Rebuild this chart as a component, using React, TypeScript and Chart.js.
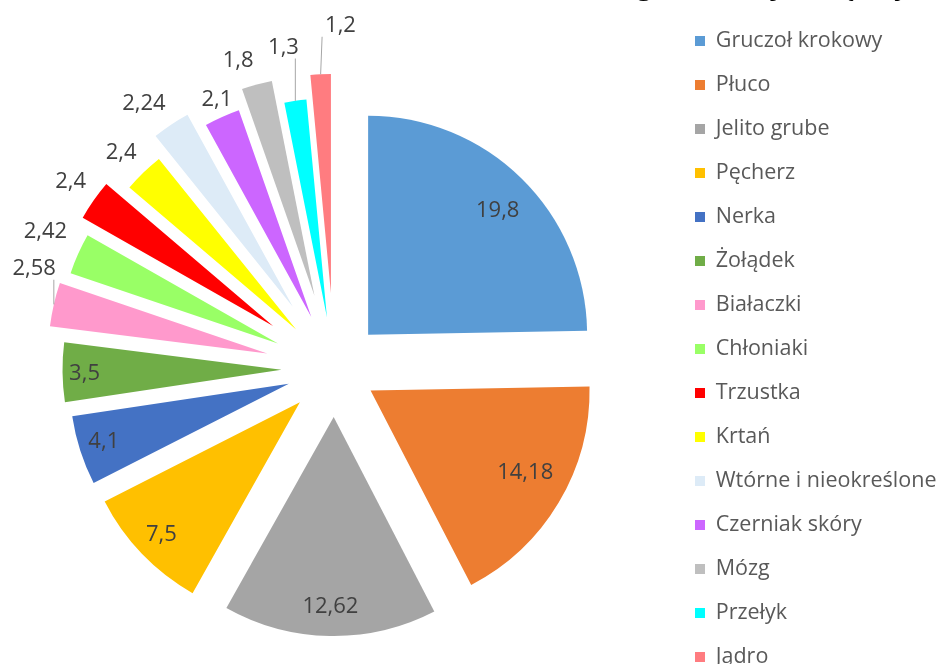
import React, { useEffect, useRef } from 'react';
import { Chart, registerables } from 'chart.js';

Chart.register(...registerables);

const TITLE = 'Struktura zachorowań według lokalizacji – mężczyźni';

const categories = [
  'Gruczoł krokowy',
  'Płuco',
  'Jelito grube',
  'Pęcherz',
  'Nerka',
  'Żołądek',
  'Białaczki',
  'Chłoniaki',
  'Trzustka',
  'Krtań',
  'Wtórne i nieokreślone',
  'Czerniak skóry',
  'Mózg',
  'Przełyk',
  'Jądro',
];

const values = [19.8, 14.18, 12.62, 7.5, 4.1, 3.5, 2.58, 2.42, 2.4, 2.4, 2.24, 2.1, 1.8, 1.3, 1.2];

const valueLabels = values.map((v) => String(v).replace('.', ','));

const colors = [
  '#5B9BD5',
  '#ED7D31',
  '#A5A5A5',
  '#FFC000',
  '#4472C4',
  '#70AD47',
  '#FF99CC',
  '#99FF66',
  '#FF0000',
  '#FFFF00',
  '#DDEBF7',
  '#CC66FF',
  '#BFBFBF',
  '#00FFFF',
  '#FF7C80',
];

// slice explosion (px pushed out along each slice's bisector)
const explode = [48, 42, 48, 48, 48, 53, 69, 62, 75, 55, 75, 57, 76, 52, 76];

// data label placement: distance from pie centre (px) and turn from bisector (deg)
const labelDistance = [227, 217, 237.5, 240, 242, 250, 316.6, 320, 323.7, 303.9, 326.7, 293.5, 323, 325.5, 343.3];
const labelTurn = [1.5, -2.3, 0, 0, 0.2, -0.3, 5.5, 1.2, 0.4, -0.4, -1.9, 0.4, -2.1, -0.7, 3.7];

const LEGEND_FONT = 21.5;
const LEGEND_PAD = 22.5;
const LABEL_FONT = 22;
const CANVAS_W = 980;
const CANVAS_H = 758;
const SHIFT_X = 4;
const SHIFT_Y = 30;

const explodePlugin = {
  id: 'explodeSlices',
  beforeDatasetDraw(chart: any, args: any) {
    const ctx = chart.ctx;
    args.meta.data.forEach((arc: any, i: number) => {
      const mid = (arc.startAngle + arc.endAngle) / 2;
      const t = explode[i] || 0;
      ctx.save();
      ctx.translate(Math.cos(mid) * t, Math.sin(mid) * t);
      arc.draw(ctx);
      ctx.restore();
    });
    return false;
  },
};

const labelPlugin = {
  id: 'sliceLabels',
  afterDatasetsDraw(chart: any) {
    const meta = chart.getDatasetMeta(0);
    const ctx = chart.ctx;
    ctx.save();
    ctx.font = `${LABEL_FONT}px "Open Sans"`;
    ctx.textAlign = 'center';
    ctx.textBaseline = 'middle';
    meta.data.forEach((arc: any, i: number) => {
      const { x, y, startAngle, endAngle, outerRadius } = arc;
      const mid = (startAngle + endAngle) / 2;
      const la = mid + (labelTurn[i] * Math.PI) / 180;
      const lx = x + Math.cos(la) * labelDistance[i];
      const ly = y + Math.sin(la) * labelDistance[i];
      const text = valueLabels[i];
      const w = ctx.measureText(text).width;
      const edge = (explode[i] || 0) + outerRadius;
      if (labelDistance[i] > edge) {
        const ex = x + Math.cos(mid) * edge;
        const ey = y + Math.sin(mid) * edge;
        const bx0 = lx - w / 2 - 3;
        const bx1 = lx + w / 2 + 3;
        const by0 = ly - 11;
        const by1 = ly + 11;
        const nx = Math.min(Math.max(ex, bx0), bx1);
        const ny = Math.min(Math.max(ey, by0), by1);
        if (Math.hypot(ex - nx, ey - ny) > 18) {
          ctx.strokeStyle = '#A6A6A6';
          ctx.lineWidth = 1;
          ctx.beginPath();
          ctx.moveTo(ex, ey);
          ctx.lineTo(nx, ny);
          ctx.stroke();
        }
      }
      ctx.fillStyle = '#404040';
      ctx.fillText(text, lx, ly);
    });
    ctx.restore();
  },
};

export default function App() {
  const ref = useRef<HTMLCanvasElement>(null);

  useEffect(() => {
    if (!ref.current) return;
    const mctx = document.createElement('canvas').getContext('2d') as CanvasRenderingContext2D;
    mctx.font = `${LEGEND_FONT}px "Open Sans"`;
    const maxText = Math.max(...categories.map((c) => mctx.measureText(c).width));
    const legendWidth = LEGEND_PAD + 10 + LEGEND_FONT / 2 + maxText + 10;
    const legendLeft = 672.5 + SHIFT_X;
    const padRight = Math.max(0, CANVAS_W - legendLeft - legendWidth);

    const chart = new Chart(ref.current, {
      type: 'pie',
      data: {
        labels: categories,
        datasets: [
          {
            data: values,
            backgroundColor: colors,
            borderWidth: 0,
          },
        ],
      },
      options: {
        animation: false,
        responsive: true,
        maintainAspectRatio: false,
        devicePixelRatio: 1,
        radius: 219,
        layout: { padding: { left: SHIFT_X - 3.5, right: padRight, top: 0, bottom: 0 } },
        plugins: {
          title: {
            display: true,
            text: TITLE,
            align: 'end',
            color: '#000000',
            font: { family: 'Open Sans', size: 26, weight: 'bold', lineHeight: 1.2 },
            padding: { top: 1.6, bottom: 7.2 },
          },
          legend: {
            position: 'right',
            labels: {
              boxWidth: 10,
              boxHeight: 10,
              padding: LEGEND_PAD,
              color: '#595959',
              font: { family: 'Open Sans', size: LEGEND_FONT },
            },
          },
          tooltip: { enabled: false },
        },
      } as any,
      plugins: [explodePlugin, labelPlugin],
    });
    return () => chart.destroy();
  }, []);

  return (
    <div
      style={{
        position: 'fixed',
        left: 0,
        top: 0,
        width: 947,
        height: 664,
        overflow: 'hidden',
        background: '#ffffff',
      }}
    >
      <div
        style={{
          position: 'absolute',
          left: -SHIFT_X,
          top: -SHIFT_Y,
          width: CANVAS_W,
          height: CANVAS_H,
        }}
      >
        <canvas ref={ref} />
      </div>
    </div>
  );
}
